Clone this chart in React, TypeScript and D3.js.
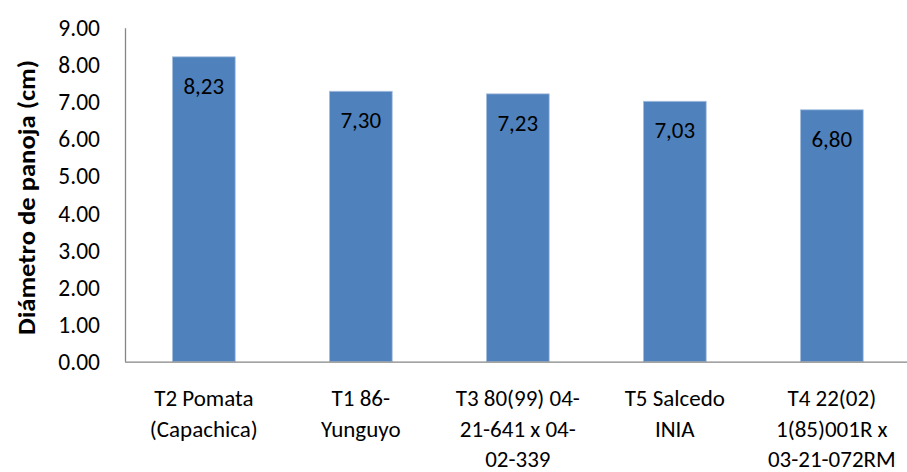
import React from "react";
import * as d3 from "d3";

const categories = ["T2 Pomata (Capachica)", "T1 86-Yunguyo", "T3 80(99) 04-21-641 x 04-02-339", "T5 Salcedo INIA", "T4 22(02) 1(85)001R x 03-21-072RM"];
const categoryLines = [
  ["T2 Pomata", "(Capachica)"],
  ["T1 86-", "Yunguyo"],
  ["T3 80(99) 04-", "21-641 x 04-", "02-339"],
  ["T5 Salcedo", "INIA"],
  ["T4 22(02)", "1(85)001R x", "03-21-072RM"],
];
const values = [8.23, 7.3, 7.23, 7.03, 6.8];
const yTicks = [0, 1, 2, 3, 4, 5, 6, 7, 8, 9];
const yTitle = "Diámetro de panoja (cm)";

const W = 907;
const H = 472;
const FONT = "Carlito, Calibri, Lato, 'Open Sans', sans-serif";

export default function App() {
  const x = d3.scaleBand<string>().domain(categories).range([125.3, 910.3]).paddingInner(0.6).paddingOuter(0.3);
  const y = d3.scaleLinear().domain([0, 9]).range([361.7, 28.3]);
  const fmt = (v: number) => v.toFixed(2).replace(".", ",");
  return (
    <svg width={W} height={H} style={{ position: "absolute", left: 0, top: 0, background: "#fff" }} fontFamily={FONT}>
      {categories.map((c, i) => (
        <rect key={c} x={x(c)} y={y(values[i])} width={x.bandwidth()} height={y(0) - y(values[i])} fill="#4F81BD" stroke="#A7C0DE" strokeWidth={0.8} />
      ))}
      {categories.map((c, i) => (
        <text key={"l" + c} x={(x(c) as number) + x.bandwidth() / 2} y={y(values[i]) + 29} textAnchor="middle" dominantBaseline="central" fontSize={23} fill="#000">
          {fmt(values[i])}
        </text>
      ))}
      <line x1={125.5} x2={125.5} y1={y(9)} y2={y(0)} stroke="#868686" strokeWidth={1.3} />
      <line x1={125} x2={W} y1={y(0) + 0.5} y2={y(0) + 0.5} stroke="#868686" strokeWidth={1.3} />
      {yTicks.map((t) => (
        <text key={t} x={100} y={y(t)} textAnchor="end" dominantBaseline="central" fontSize={23.5} fill="#000">
          {t.toFixed(2)}
        </text>
      ))}
      {categories.map((c, i) => (
        <text key={"c" + c} textAnchor="middle" fontSize={23} fill="#000">
          {categoryLines[i].map((ln, j) => (
            <tspan key={j} x={(x(c) as number) + x.bandwidth() / 2} y={398 + j * 30.5} dominantBaseline="central">
              {ln}
            </tspan>
          ))}
        </text>
      ))}
      <text transform={`translate(26,${(60 + 335) / 2}) rotate(-90)`} textAnchor="middle" dominantBaseline="central" fontSize={24} fontWeight="bold" fill="#000" textLength={275} lengthAdjust="spacingAndGlyphs">
        {yTitle}
      </text>
    </svg>
  );
}
